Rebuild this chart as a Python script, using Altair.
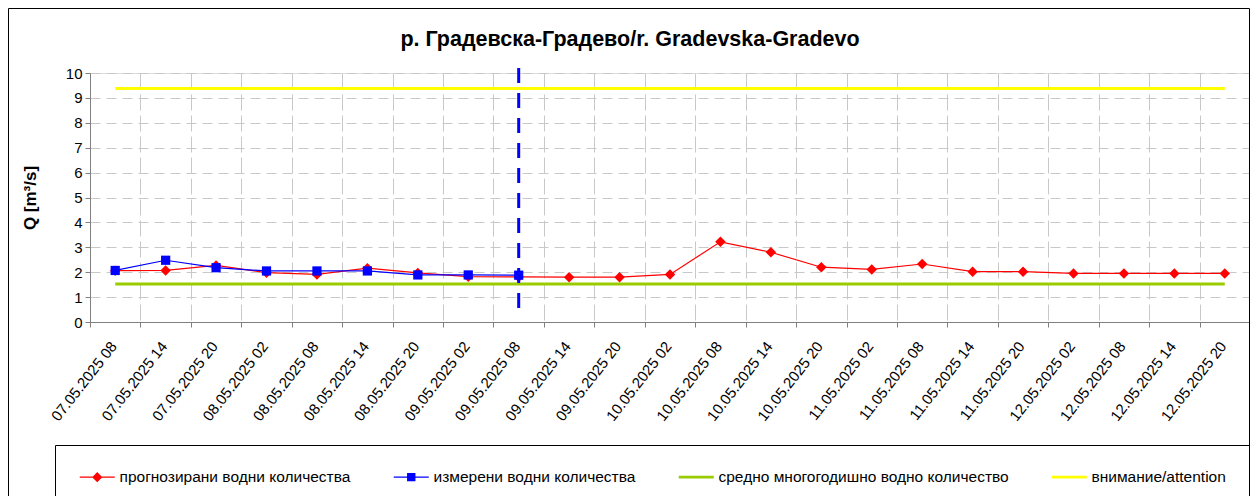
import altair as alt
import pandas as pd

categories = [
    "07.05.2025 08", "07.05.2025 14", "07.05.2025 20",
    "08.05.2025 02", "08.05.2025 08", "08.05.2025 14", "08.05.2025 20",
    "09.05.2025 02", "09.05.2025 08", "09.05.2025 14", "09.05.2025 20",
    "10.05.2025 02", "10.05.2025 08", "10.05.2025 14", "10.05.2025 20",
    "11.05.2025 02", "11.05.2025 08", "11.05.2025 14", "11.05.2025 20",
    "12.05.2025 02", "12.05.2025 08", "12.05.2025 14", "12.05.2025 20",
]
forecast = [2.06, 2.07, 2.27, 1.98, 1.91, 2.16, 1.97, 1.82, 1.81, 1.80, 1.80,
            1.91, 3.22, 2.80, 2.20, 2.11, 2.33, 2.02, 2.02, 1.95, 1.95, 1.95, 1.95]
measured = [2.07, 2.48, 2.18, 2.05, 2.05, 2.05, 1.89, 1.89, 1.88]
mean_level = 1.53
attention_level = 9.38
now_marker = "09.05.2025 08"
y_ticks = [0, 1, 2, 3, 4, 5, 6, 7, 8, 9, 10]

series_names = [
    "прогнозирани водни количества",
    "измерени водни количества",
    "средно многогодишно водно количество",
    "внимание/attention",
]
series_colors = ["#ff0000", "#0000ff", "#99cc00", "#ffff00"]
legend_paths = [
    "M-1,-0.08H4V0.08H-1ZM1.5,-0.72L2.22,0L1.5,0.72L0.78,0Z",
    "M-1,-0.08H4V0.08H-1ZM0.9,-0.6H2.1V0.6H0.9Z",
    "M-1,-0.21H4V0.21H-1Z",
    "M-1,-0.21H4V0.21H-1Z",
]

FONT = "Liberation Sans"

fc_df = pd.DataFrame({"time": categories, "Q": forecast})
ms_df = pd.DataFrame({"time": categories[:len(measured)], "Q": measured})
mean_df = pd.DataFrame({"time": categories, "Q": [mean_level] * len(categories)})
att_df = pd.DataFrame({"time": categories, "Q": [attention_level] * len(categories)})
now_df = pd.DataFrame({"time": [now_marker]})
leg_df = pd.DataFrame({"series": series_names})

x_scale = alt.Scale(type="band", domain=categories, paddingInner=0, paddingOuter=0)
x_axis = alt.Axis(
    title=None, tickBand="extent", labelAngle=-52, labelAlign="right",
    labelBaseline="middle", labelPadding=16, labelOffset=-2, labelFontSize=15,
    labelColor="#000000", labelFont=FONT, tickSize=5, tickColor="#808080",
    domainColor="#808080", grid=True, gridColor="#c8c8c8", gridDash=[16, 5],
    labelOverlap=False,
)
x_enc = alt.X("time:N", sort=categories, scale=x_scale, axis=x_axis, bandPosition=0.5)
y_enc = alt.Y(
    "Q:Q",
    scale=alt.Scale(domain=[0, 10], nice=False),
    axis=alt.Axis(
        values=y_ticks, title="Q [m³/s]", titleFont=FONT, titleFontSize=17,
        titleFontWeight="bold", titleColor="#000000", titleX=-51, titleY=124.5,
        labelFontSize=15, labelFont=FONT, labelColor="#000000", labelPadding=3,
        tickSize=5, tickColor="#808080", domainColor="#808080",
        grid=True, gridColor="#c8c8c8", gridDash=[10, 6],
    ),
)

frame = alt.Chart(now_df).mark_rect(fill="transparent", stroke="#000000", strokeWidth=1).encode(
    x=alt.value(-81.5), x2=alt.value(1159.5), y=alt.value(-64.5), y2=alt.value(600)
)

attention = alt.Chart(att_df).mark_line(color="#ffff00", strokeWidth=3).encode(x=x_enc, y=y_enc)
mean = alt.Chart(mean_df).mark_line(color="#99cc00", strokeWidth=3).encode(x=x_enc, y=y_enc)
fc_line = alt.Chart(fc_df).mark_line(color="#ff0000", strokeWidth=1.2).encode(x=x_enc, y=y_enc)
fc_pts = alt.Chart(fc_df).mark_point(shape="diamond", filled=True, size=110, color="#ff0000", opacity=1).encode(x=x_enc, y=y_enc)
ms_line = alt.Chart(ms_df).mark_line(color="#0000ff", strokeWidth=1.2).encode(x=x_enc, y=y_enc)
ms_pts = alt.Chart(ms_df).mark_point(shape="square", filled=True, size=85, color="#0000ff", opacity=1).encode(x=x_enc, y=y_enc)
now_rule = alt.Chart(now_df).mark_rule(color="#0000ff", strokeWidth=3, strokeDash=[15, 10]).encode(
    x=x_enc, y=alt.value(-5), y2=alt.value(245)
)

legend = alt.Legend(
    title=None, orient="none", legendX=-35, legendY=372, direction="horizontal",
    columns=4, columnPadding=42, symbolSize=196, symbolStrokeWidth=0,
    labelFont=FONT, labelFontSize=15.5, labelColor="#000000", labelLimit=600,
    labelOffset=25, strokeColor="#000000", padding=24, symbolOpacity=1,
)
legend_layer = alt.Chart(leg_df).transform_filter("false").mark_point(filled=True, size=196, opacity=1).encode(
    color=alt.Color("series:N", scale=alt.Scale(domain=series_names, range=series_colors), legend=legend),
    shape=alt.Shape("series:N", scale=alt.Scale(domain=series_names, range=legend_paths), legend=legend),
)

chart = alt.layer(
    frame, attention, mean, fc_line, fc_pts, ms_line, ms_pts, now_rule, legend_layer
).properties(
    width=1160,
    height=249,
    padding={"left": 82, "top": 65, "right": 0, "bottom": 174},
    autosize=alt.AutoSizeParams(type="none"),
    title=alt.TitleParams(
        "р. Градевска-Градево/r. Gradevska-Gradevo", font=FONT, fontSize=21.5,
        fontWeight="bold", color="#000000", anchor="middle", dx=-40, offset=0, dy=42,
    ),
).configure_view(stroke="transparent").configure(background="#ffffff")

chart.save("out.html", embed_options={"renderer": "svg", "actions": False})
